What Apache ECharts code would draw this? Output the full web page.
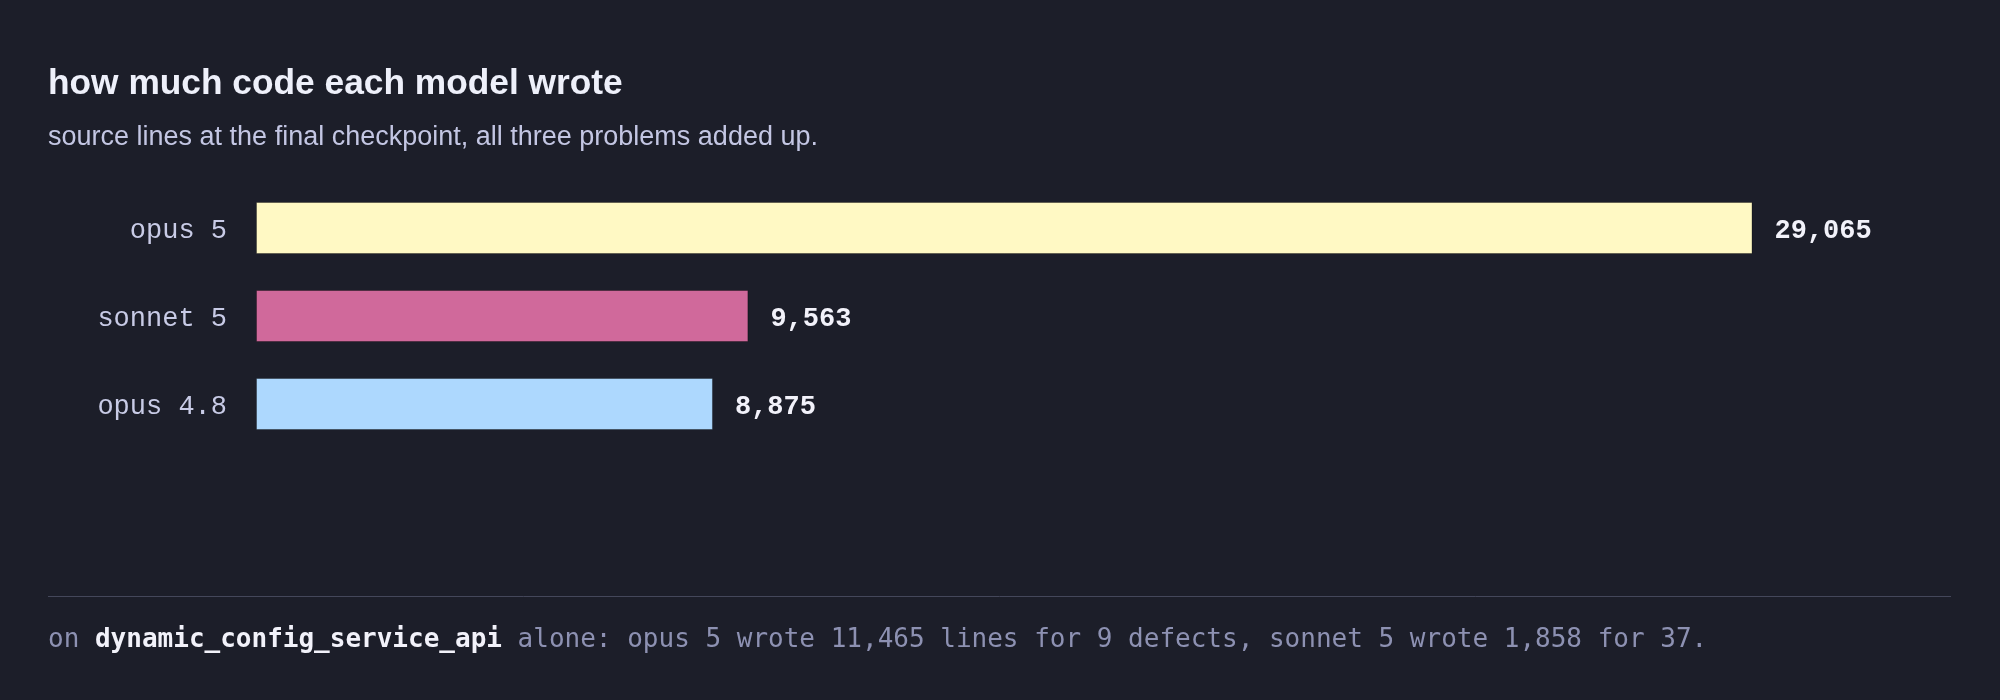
<!DOCTYPE html>
<html>
<head>
<meta charset="utf-8">
<script src="https://cdn.jsdelivr.net/npm/echarts@6/dist/echarts.min.js"></script>
<style>
  html, body { margin: 0; padding: 0; background: #1c1e29; }
  #chart { width: 2000px; height: 700px; }
</style>
</head>
<body>
<div id="chart"></div>
<script>
// ---- data ----
const categories = ['opus 5', 'sonnet 5', 'opus 4.8'];
const lineCounts = [29065, 9563, 8875];
const barColors = ['#fff9c4', '#d0699b', '#add8fe'];

const titleText = 'how much code each model wrote';
const subtitleText = 'source lines at the final checkpoint, all three problems added up.';
const footerParts = [
  ['a', 'on '],
  ['b', 'dynamic_config_service_api'],
  ['a', ' alone: opus 5 wrote 11,465 lines for 9 defects, sonnet 5 wrote 1,858 for 37.']
];

const chart = echarts.init(document.getElementById('chart'));

const fmt = v => v.toLocaleString('en-US');

chart.setOption({
  backgroundColor: '#1c1e29',
  animation: false,
  title: [
    {
      text: titleText, left: 43, top: 62,
      textStyle: { fontFamily: 'Liberation Sans', fontWeight: 'bold', fontSize: 35.3, color: '#eef0fa' }
    },
    {
      text: subtitleText, left: 43, top: 119,
      textStyle: { fontFamily: 'Liberation Sans', fontWeight: 'normal', fontSize: 27, color: '#c3c6e3' }
    }
  ],
  grid: { left: 256, right: 247.5, top: 184, bottom: 252, containLabel: false },
  xAxis: {
    type: 'value', min: 0, max: function (v) { return v.max; },
    show: false, splitLine: { show: false }
  },
  yAxis: {
    type: 'category', data: categories, inverse: true,
    axisLine: { show: false }, axisTick: { show: false },
    axisLabel: {
      margin: 29,
      formatter: v => '{c|' + v + '}',
      rich: {
        c: {
          fontFamily: '"Nimbus Mono PS", "Nimbus Mono L", Courier, "Courier New", "Liberation Mono", monospace',
          fontSize: 27, color: '#c8cbe6', padding: [6, 0, 0, 0]
        }
      }
    }
  },
  series: [{
    type: 'bar',
    barWidth: 52,
    data: lineCounts.map((v, i) => ({
      value: v,
      itemStyle: { color: barColors[i], borderColor: 'rgba(0,0,0,0.3)', borderWidth: 1 }
    })),
    label: {
      show: true, position: 'right', distance: 22, offset: [0, 3],
      formatter: p => fmt(p.value),
      fontFamily: 'Liberation Mono', fontWeight: 'bold', fontSize: 27, color: '#f2f2fa'
    }
  }],
  graphic: [
    {
      type: 'line',
      shape: { x1: 48, y1: 596.5, x2: 1951, y2: 596.5 },
      style: { stroke: '#44475a', lineWidth: 1 }
    },
    {
      type: 'text', left: 48, top: 627,
      style: {
        text: footerParts.map(p => '{' + p[0] + '|' + p[1] + '}').join(''),
        rich: {
          a: { fontFamily: 'DejaVu Sans Mono', fontSize: 26, fill: '#8d91b2', color: '#8d91b2' },
          b: { fontFamily: 'DejaVu Sans Mono', fontSize: 26, fontWeight: 'bold', fill: '#f2f2fa', color: '#f2f2fa' }
        }
      }
    }
  ]
});
</script>
</body>
</html>
